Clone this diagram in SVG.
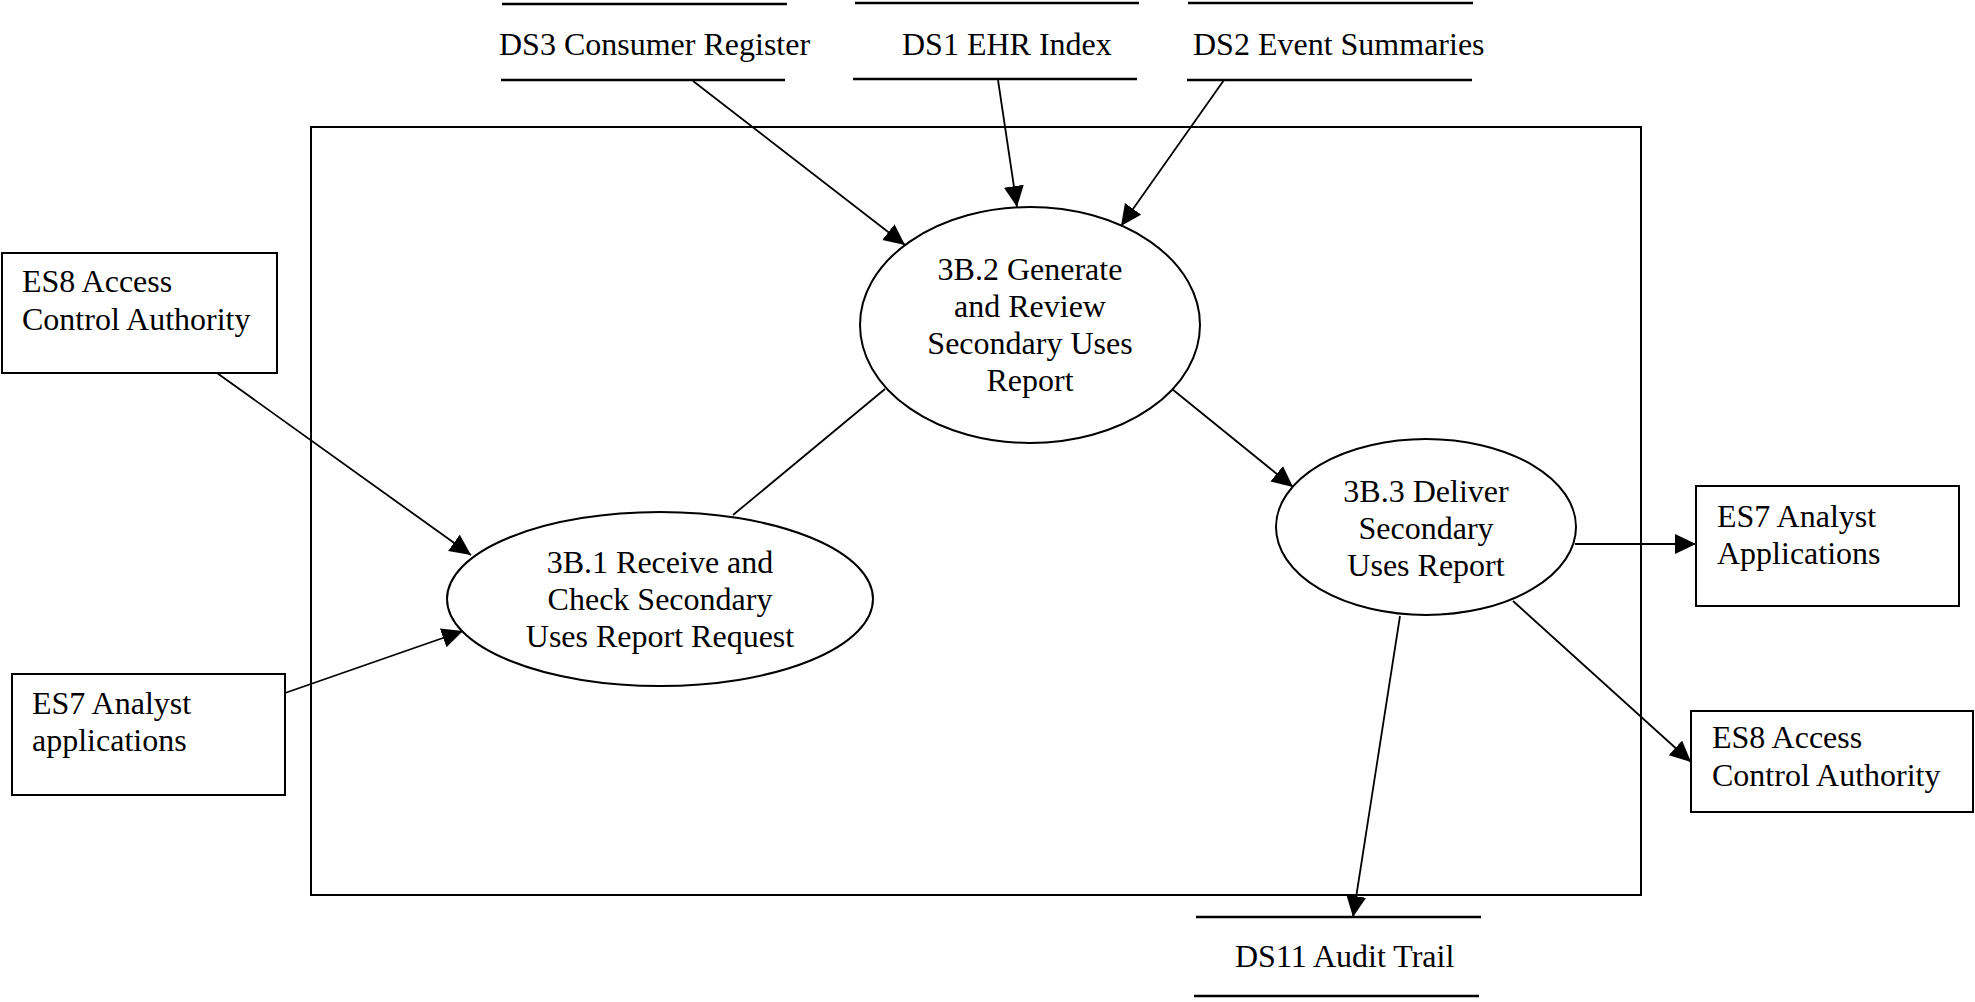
<svg xmlns="http://www.w3.org/2000/svg" width="1975" height="1002" viewBox="0 0 1975 1002">
  <style>
    text { font-family: "Liberation Serif", "Times New Roman", serif; font-size: 32px; fill: #000; }
    .mid { text-anchor: middle; }
    .box { fill: #fff; stroke: #000; stroke-width: 2; }
    .proc { fill: #fff; stroke: #000; stroke-width: 2; }
    .store { stroke: #000; stroke-width: 2.6; }
    .flow { fill: none; stroke: #000; stroke-width: 1.8; }
    .arrow { marker-end: url(#head); }
  </style>
  <defs>
    <marker id="head" markerUnits="userSpaceOnUse" markerWidth="22" markerHeight="22" refX="21" refY="10" orient="auto">
      <path d="M0,0 L21,10 L0,20 Z" fill="#000"/>
    </marker>
  </defs>

  <rect width="1975" height="1002" fill="#fff"/>

  <!-- system boundary -->
  <rect id="boundary" x="311" y="127" width="1330" height="768" fill="none" stroke="#000" stroke-width="2"/>

  <!-- data stores -->
  <g id="ds3">
    <line class="store" x1="502" y1="4" x2="787" y2="4"/>
    <line class="store" x1="501" y1="80" x2="785" y2="80"/>
    <text x="499" y="55">DS3 Consumer Register</text>
  </g>
  <g id="ds1">
    <line class="store" x1="855" y1="3" x2="1139" y2="3"/>
    <line class="store" x1="853" y1="79" x2="1137" y2="79"/>
    <text x="902" y="55">DS1 EHR Index</text>
  </g>
  <g id="ds2">
    <line class="store" x1="1188" y1="3" x2="1473" y2="3"/>
    <line class="store" x1="1187" y1="80" x2="1472" y2="80"/>
    <text x="1193" y="55">DS2 Event Summaries</text>
  </g>
  <g id="ds11">
    <line class="store" x1="1196" y1="917" x2="1481" y2="917"/>
    <line class="store" x1="1194" y1="996" x2="1479" y2="996"/>
    <text x="1235" y="967">DS11 Audit Trail</text>
  </g>

  <!-- external entities -->
  <g id="es8-in">
    <rect class="box" x="2" y="253" width="275" height="120"/>
    <text x="22" y="292">ES8 Access</text>
    <text x="22" y="330">Control Authority</text>
  </g>
  <g id="es7-in">
    <rect class="box" x="12" y="674" width="273" height="121"/>
    <text x="32" y="714">ES7 Analyst</text>
    <text x="32" y="751">applications</text>
  </g>
  <g id="es7-out">
    <rect class="box" x="1696" y="486" width="263" height="120"/>
    <text x="1717" y="527">ES7 Analyst</text>
    <text x="1717" y="564">Applications</text>
  </g>
  <g id="es8-out">
    <rect class="box" x="1691" y="711" width="282" height="101"/>
    <text x="1712" y="748">ES8 Access</text>
    <text x="1712" y="786">Control Authority</text>
  </g>

  <!-- processes -->
  <g id="p3b2">
    <ellipse class="proc" cx="1030" cy="325" rx="170" ry="118"/>
    <text class="mid" x="1030" y="280">3B.2 Generate</text>
    <text class="mid" x="1030" y="317">and Review</text>
    <text class="mid" x="1030" y="354">Secondary Uses</text>
    <text class="mid" x="1030" y="391">Report</text>
  </g>
  <g id="p3b1">
    <ellipse class="proc" cx="660" cy="599" rx="213" ry="87"/>
    <text class="mid" x="660" y="573">3B.1 Receive and</text>
    <text class="mid" x="660" y="610">Check Secondary</text>
    <text class="mid" x="660" y="647">Uses Report Request</text>
  </g>
  <g id="p3b3">
    <ellipse class="proc" cx="1426" cy="527" rx="150" ry="88"/>
    <text class="mid" x="1426" y="502">3B.3 Deliver</text>
    <text class="mid" x="1426" y="539">Secondary</text>
    <text class="mid" x="1426" y="576">Uses Report</text>
  </g>

  <!-- data flows -->
  <g id="flows">
    <line class="flow arrow" x1="693" y1="81" x2="905" y2="245"/>
    <line class="flow arrow" x1="998" y1="80" x2="1017" y2="207"/>
    <line class="flow arrow" x1="1224" y1="80" x2="1121" y2="226"/>
    <line class="flow" x1="885" y1="389" x2="733" y2="515"/>
    <line class="flow arrow" x1="217" y1="373" x2="471" y2="555"/>
    <line class="flow arrow" x1="285" y1="693" x2="463" y2="631"/>
    <line class="flow arrow" x1="1172" y1="389" x2="1293" y2="487"/>
    <line class="flow arrow" x1="1575" y1="544" x2="1696" y2="544"/>
    <line class="flow arrow" x1="1513" y1="601" x2="1691" y2="762"/>
    <line class="flow arrow" x1="1400" y1="616" x2="1353" y2="917"/>
  </g>
</svg>
